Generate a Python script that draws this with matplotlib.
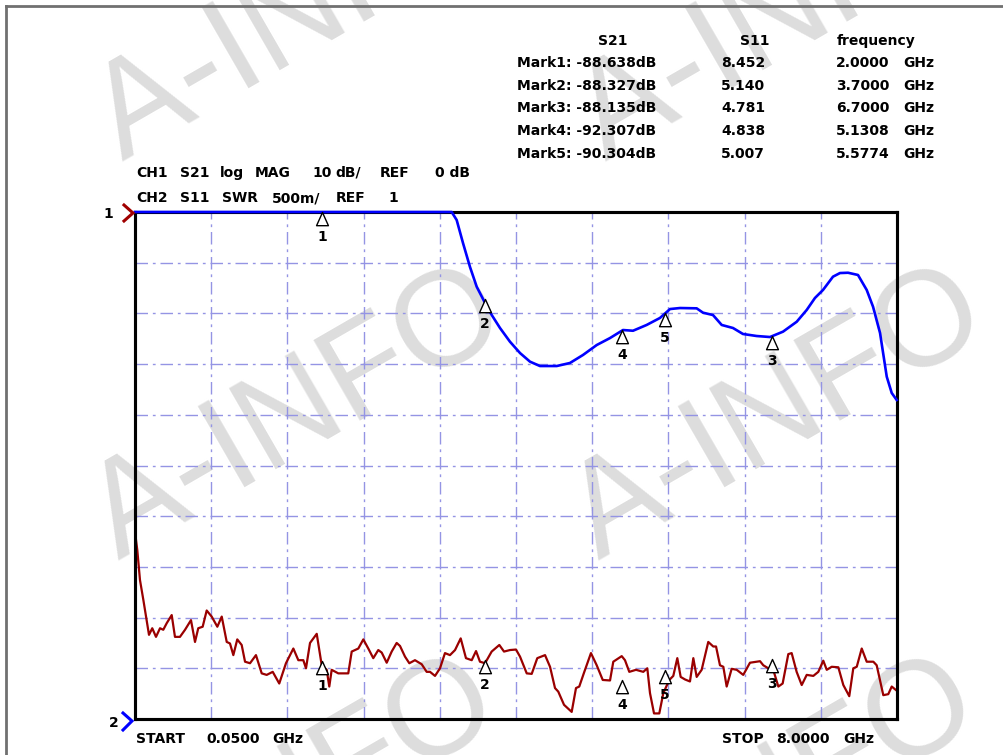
import matplotlib.pyplot as plt
from matplotlib.lines import Line2D
from matplotlib.path import Path

W, H = 1004, 755

# CH1: S21 log MAG (dB), dark red trace
s21_freq = [0.050, 0.074, 0.102, 0.137, 0.165, 0.196, 0.230, 0.269, 0.311, 0.345,
            0.381, 0.433, 0.467, 0.519, 0.572, 0.634, 0.676, 0.710, 0.756, 0.798,
            0.850, 0.909, 0.955, 1.007, 1.041, 1.076, 1.117, 1.163, 1.198, 1.250,
            1.312, 1.372, 1.424, 1.487, 1.555, 1.625, 1.702, 1.754, 1.806, 1.834,
            1.876, 1.946, 1.998, 2.050, 2.077, 2.102, 2.171, 2.275, 2.311, 2.380,
            2.432, 2.484, 2.536, 2.588, 2.624, 2.676, 2.728, 2.780, 2.815, 2.867,
            2.912, 2.971, 3.041, 3.093, 3.128, 3.180, 3.232, 3.284, 3.336, 3.389,
            3.448, 3.503, 3.563, 3.608, 3.649, 3.702, 3.771, 3.851, 3.900, 3.962,
            4.025, 4.067, 4.137, 4.189, 4.247, 4.328, 4.380, 4.432, 4.466, 4.526,
            4.606, 4.651, 4.685, 4.734, 4.807, 4.867, 4.930, 5.006, 5.040, 5.128,
            5.162, 5.207, 5.277, 5.353, 5.395, 5.423, 5.465, 5.520, 5.562, 5.624,
            5.666, 5.708, 5.743, 5.788, 5.840, 5.875, 5.910, 5.962, 6.031, 6.083,
            6.112, 6.153, 6.188, 6.223, 6.275, 6.328, 6.396, 6.466, 6.571, 6.605,
            6.657, 6.709, 6.762, 6.807, 6.866, 6.901, 6.953, 7.006, 7.058, 7.127,
            7.179, 7.231, 7.267, 7.319, 7.388, 7.440, 7.502, 7.544, 7.580, 7.632,
            7.684, 7.753, 7.788, 7.857, 7.909, 7.945, 7.990]
s21_db = [-63.1, -66.7, -72.6, -76.5, -79.8, -83.4, -82.1, -83.8, -82.1, -82.4,
          -81.1, -79.5, -83.8, -83.8, -82.4, -80.5, -84.8, -82.1, -81.8, -78.6,
          -79.8, -81.8, -79.8, -84.8, -85.1, -87.4, -84.3, -85.4, -88.7, -89.0,
          -87.4, -91.0, -91.3, -90.7, -93.0, -89.0, -86.1, -88.4, -88.4, -90.0,
          -85.0, -83.2, -89.4, -90.3, -93.6, -90.3, -91.0, -91.0, -86.7, -86.1,
          -84.3, -86.1, -88.0, -86.4, -86.9, -88.9, -86.7, -85.0, -85.6, -87.7,
          -89.0, -88.4, -89.2, -90.7, -90.7, -91.5, -90.0, -87.0, -87.4, -86.4,
          -84.1, -88.0, -88.4, -86.6, -88.7, -89.0, -86.7, -85.4, -86.7, -86.4,
          -86.3, -87.7, -91.0, -91.1, -88.0, -87.4, -89.7, -93.9, -94.6, -97.2,
          -98.6, -93.9, -93.6, -90.9, -87.0, -89.4, -92.3, -92.4, -88.7, -87.6,
          -88.4, -90.7, -90.3, -90.7, -90.0, -94.9, -98.9, -98.9, -94.9, -92.3,
          -91.5, -88.0, -91.7, -92.2, -92.6, -88.0, -91.7, -90.3, -84.8, -85.7,
          -85.7, -89.4, -89.7, -93.6, -90.1, -90.3, -91.3, -88.9, -88.6, -89.4,
          -90.0, -90.3, -93.6, -93.0, -87.2, -87.0, -90.7, -93.3, -91.3, -91.5,
          -90.7, -88.5, -90.3, -89.7, -89.8, -93.3, -95.5, -90.0, -89.7, -86.1,
          -88.7, -88.7, -89.4, -95.3, -95.1, -93.6, -94.3]

# CH2: S11 SWR, blue trace (clipped at top of screen = 6.0)
swr_freq = [0.05, 3.354, 3.406, 3.472, 3.545, 3.615, 3.702, 3.772, 3.858, 3.962,
            4.067, 4.171, 4.275, 4.450, 4.588, 4.724, 4.867, 5.006, 5.141, 5.246,
            5.388, 5.527, 5.632, 5.736, 5.910, 5.976, 6.080, 6.171, 6.289, 6.393,
            6.536, 6.675, 6.811, 6.954, 7.058, 7.144, 7.228, 7.332, 7.405, 7.489,
            7.593, 7.684, 7.750, 7.823, 7.893, 7.945, 7.997]
swr_val = [6.0, 6.0, 5.921, 5.694, 5.458, 5.263, 5.103, 4.984, 4.856, 4.721,
           4.609, 4.524, 4.481, 4.481, 4.511, 4.590, 4.688, 4.757, 4.836, 4.829,
           4.886, 4.955, 5.043, 5.053, 5.050, 5.007, 4.984, 4.886, 4.856, 4.797,
           4.777, 4.767, 4.820, 4.918, 5.034, 5.152, 5.231, 5.362, 5.398, 5.401,
           5.379, 5.231, 5.066, 4.807, 4.376, 4.215, 4.146]

# markers table
mark_names = ['Mark1:', 'Mark2:', 'Mark3:', 'Mark4:', 'Mark5:']
mark_freq = [2.0, 3.7, 6.7, 5.1308, 5.5774]
mark_s21 = [-88.638, -88.327, -88.135, -92.307, -90.304]
mark_s11 = [8.452, 5.140, 4.781, 4.838, 5.007]

f_start, f_stop = 0.05, 8.0
db_ref, db_div = 0.0, 10.0
swr_ref, swr_div = 1.0, 0.5

FONT = 'DejaVu Sans'
TXT = dict(family=FONT, fontweight='bold', fontsize=10, color='black')


def fx(x):
    return x / W


def fy(y):
    return 1 - y / H


fig = plt.figure(figsize=(W / 100, H / 100), dpi=100)
fig.patch.set_facecolor('white')

# watermark (anchor = baseline start of the "A")
for x0, y0 in [(122, 161), (605, 161), (118, 560), (598, 560), (110, 950), (590, 950)]:
    fig.text(fx(x0), fy(y0), 'A-INFO', family='Liberation Sans', fontsize=97,
             color='#dddddd', rotation=30, ha='left', va='baseline',
             rotation_mode='anchor', zorder=-5)

# outer window frame
fig.add_artist(Line2D([fx(6), fx(6)], [fy(6), fy(H)], color='#707070', lw=2))
fig.add_artist(Line2D([fx(6), fx(W)], [fy(6), fy(6)], color='#707070', lw=2))

ax = fig.add_axes([fx(135), fy(719), (897 - 135) / W, (719 - 212) / H])
ax.set_facecolor('none')
ax.set_xlim(f_start, f_stop)
ax.set_ylim(db_ref - 10 * db_div, db_ref)
step = (f_stop - f_start) / 10
ax.set_xticks([f_start + step * k for k in range(11)])
ax.set_yticks([db_ref - db_div * k for k in range(11)])
ax.tick_params(length=0, labelbottom=False, labelleft=False)
ax.grid(True, color='#9494e4', lw=1.0, dashes=(9, 3.5, 2, 3.5))
for s in ax.spines.values():
    s.set_linewidth(2.2)
    s.set_color('black')

ax2 = ax.twinx()
ax2.set_ylim(swr_ref, swr_ref + 10 * swr_div)
ax2.tick_params(length=0, labelright=False)
for s in ax2.spines.values():
    s.set_linewidth(2.2)
    s.set_color('black')

ax.plot(s21_freq, s21_db, color='#9a0000', lw=1.6, zorder=3)
ax2.plot(swr_freq, swr_val, color='#0000ff', lw=1.9, zorder=3, clip_on=False)

# marker triangles: apex on the trace
tri = Path([(0, 0), (-0.45, -1), (0.45, -1), (0, 0)],
           [Path.MOVETO, Path.LINETO, Path.LINETO, Path.CLOSEPOLY])
swr_top = swr_ref + 10 * swr_div
for i, f in enumerate(mark_freq):
    for a, v in [(ax, mark_s21[i]), (ax2, min(mark_s11[i], swr_top))]:
        a.plot([f], [v], marker=tri, ms=19, mfc='white', mec='black', mew=1.0,
               ls='none', zorder=4, clip_on=False)
        a.annotate(str(i + 1), xy=(f, v), xytext=(0, -18), textcoords='offset points',
                   ha='center', va='center', zorder=5, **TXT)

# channel header lines
for x, w in [(136, 'CH1'), (180, 'S21'), (220, 'log'), (255, 'MAG'), (312, '10'),
             (335, 'dB/'), (380, 'REF'), (435, '0 dB')]:
    fig.text(fx(x), fy(177), w, ha='left', va='baseline', **TXT)
for x, w in [(136, 'CH2'), (180, 'S11'), (222, 'SWR'), (272, '500m/'), (336, 'REF'),
             (388, '1')]:
    fig.text(fx(x), fy(202), w, ha='left', va='baseline', **TXT)

# reference position pointers
fig.text(fx(108), fy(218), '1', ha='center', va='baseline', **TXT)
fig.add_artist(Line2D([fx(124), fx(133), fx(124)], [fy(205), fy(213), fy(221)],
                      color='#a00000', lw=2.2, solid_joinstyle='miter'))
fig.text(fx(114), fy(727), '2', ha='center', va='baseline', **TXT)
fig.add_artist(Line2D([fx(123), fx(132), fx(123)], [fy(713), fy(721), fy(730)],
                      color='#0000ff', lw=2.2, solid_joinstyle='miter'))

# start / stop
for x, w in [(136, 'START'), (206, '0.0500'), (272, 'GHz')]:
    fig.text(fx(x), fy(743), w, ha='left', va='baseline', **TXT)
for x, w in [(722, 'STOP'), (776, '8.0000'), (843, 'GHz')]:
    fig.text(fx(x), fy(743), w, ha='left', va='baseline', **TXT)

# marker table
fig.text(fx(613), fy(45), 'S21', ha='center', va='baseline', **TXT)
fig.text(fx(755), fy(45), 'S11', ha='center', va='baseline', **TXT)
fig.text(fx(876), fy(45), 'frequency', ha='center', va='baseline', **TXT)
for i in range(len(mark_names)):
    y = 67 + 22.75 * i
    fig.text(fx(517), fy(y), f'{mark_names[i]} {mark_s21[i]:.3f}dB', ha='left',
             va='baseline', **TXT)
    fig.text(fx(721), fy(y), f'{mark_s11[i]:.3f}', ha='left', va='baseline', **TXT)
    fig.text(fx(836), fy(y), f'{mark_freq[i]:.4f}', ha='left', va='baseline', **TXT)
    fig.text(fx(903), fy(y), 'GHz', ha='left', va='baseline', **TXT)

fig.savefig('out.png', dpi=100)
